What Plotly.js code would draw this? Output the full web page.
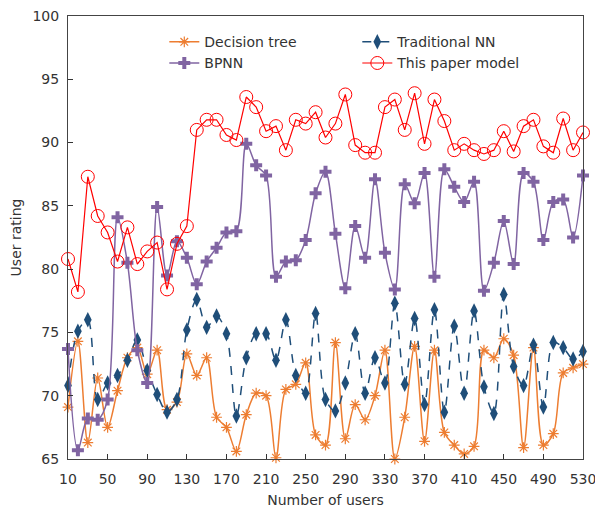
<!DOCTYPE html>
<html>
<head>
<meta charset="utf-8">
<script src="https://cdn.plot.ly/plotly-3.0.1.min.js"></script>
<style>html,body{margin:0;padding:0;background:#fff;}#chart{width:595px;height:509px;}</style>
</head>
<body>
<div id="chart"></div>
<script>
const users = [];
for (let u = 10; u <= 530; u += 10) users.push(u);

const decisionTree = [69.1, 74.3, 66.3, 71.4, 67.5, 70.4, 73.0, 73.8, 71.7, 73.6, 68.9, 69.5, 73.3, 71.6, 73.0, 68.3, 67.5, 65.6, 68.5, 70.2, 70.0, 65.1, 70.5, 70.9, 72.6, 66.9, 66.1, 74.2, 66.6, 69.3, 68.1, 70.0, 73.6, 65.0, 68.3, 73.9, 66.4, 73.6, 67.1, 66.1, 65.4, 66.0, 73.6, 73.0, 74.5, 73.2, 65.9, 73.8, 66.1, 67.0, 71.8, 72.2, 72.5];
const traditionalNN = [70.8, 75.1, 76.0, 69.7, 71.0, 71.6, 72.8, 74.4, 72.0, 70.1, 68.7, 69.7, 75.2, 77.6, 75.4, 76.3, 74.9, 68.4, 73.0, 74.9, 74.9, 72.8, 76.0, 71.6, 70.2, 76.5, 69.7, 68.8, 71.0, 74.9, 70.2, 73.0, 71.0, 77.3, 70.9, 76.1, 69.3, 76.8, 68.7, 75.5, 70.2, 76.7, 70.7, 68.6, 78.0, 72.3, 70.8, 74.0, 69.1, 74.2, 73.8, 72.9, 73.5];
const bpnn = [73.7, 65.7, 68.2, 68.1, 69.7, 84.1, 80.5, 73.6, 71.0, 84.9, 79.5, 82.2, 80.9, 78.8, 80.6, 81.7, 82.9, 83.0, 89.9, 88.2, 87.4, 79.4, 80.6, 80.7, 82.3, 86.0, 87.7, 82.8, 78.5, 83.4, 80.9, 87.1, 81.3, 78.4, 86.7, 85.2, 87.6, 79.4, 87.9, 86.5, 85.3, 86.9, 78.3, 80.5, 83.8, 80.4, 87.6, 86.9, 82.3, 85.3, 85.5, 82.5, 87.4];
const thisPaper = [80.8, 78.2, 87.3, 84.2, 82.9, 80.6, 83.3, 80.4, 81.4, 82.1, 78.4, 82.0, 83.4, 91.0, 91.8, 91.8, 90.6, 90.2, 93.6, 92.8, 90.9, 91.3, 89.4, 91.8, 91.5, 92.4, 90.4, 91.5, 93.8, 89.8, 89.2, 89.2, 92.8, 93.4, 91.0, 93.9, 89.9, 93.4, 91.7, 89.4, 89.9, 89.4, 89.1, 89.4, 90.9, 89.3, 91.3, 91.8, 89.7, 89.2, 91.9, 89.4, 90.8];

const xTicks = [10, 50, 90, 130, 170, 210, 250, 290, 330, 370, 410, 450, 490, 530];
const yTicks = [65, 70, 75, 80, 85, 90, 95, 100];

const FONT = 'DejaVu Sans, Verdana, sans-serif';

const traces = [
  {
    x: users, y: decisionTree, name: 'Decision tree', type: 'scatter', mode: 'lines+markers',
    line: {color: '#ED7D31', width: 1.5, shape: 'spline', smoothing: 0.9},
    marker: {symbol: 'asterisk-open', size: 9, color: '#ED7D31', line: {color: '#ED7D31', width: 1.2}},
    cliponaxis: false
  },
  {
    x: users, y: traditionalNN, name: 'Traditional NN', type: 'scatter', mode: 'lines+markers',
    line: {color: '#1F4E79', width: 1.5, dash: 'dash', shape: 'spline', smoothing: 0.9},
    marker: {symbol: 'diamond-tall', size: 11, color: '#1F4E79'},
    cliponaxis: false
  },
  {
    x: users, y: bpnn, name: 'BPNN', type: 'scatter', mode: 'lines+markers',
    line: {color: '#8064A2', width: 1.5, shape: 'spline', smoothing: 0.9},
    marker: {symbol: 'cross', size: 10, color: '#8064A2'},
    cliponaxis: false
  },
  {
    x: users, y: thisPaper, name: 'This paper model', type: 'scatter', mode: 'lines+markers',
    line: {color: '#FF0000', width: 1.2},
    marker: {symbol: 'circle-open', size: 13, color: '#FF0000', line: {color: '#FF0000', width: 1}},
    cliponaxis: false
  }
];

const layout = {
  width: 595, height: 509,
  margin: {l: 68, r: 12, t: 16, b: 50},
  paper_bgcolor: '#ffffff', plot_bgcolor: '#ffffff',
  font: {family: FONT, size: 14, color: '#333333'},
  showlegend: true,
  legend: {
    orientation: 'h', x: 0.187, xanchor: 'left', y: 0.977, yanchor: 'top',
    entrywidth: 148, entrywidthmode: 'pixels',
    font: {family: FONT, size: 14, color: '#333333'},
    bgcolor: 'rgba(255,255,255,0)', tracegroupgap: 0
  },
  xaxis: {
    range: [10, 530], tickmode: 'array', tickvals: xTicks, ticktext: xTicks.map(String),
    showgrid: false, zeroline: false, showline: true, linecolor: '#444444', linewidth: 1, mirror: true,
    ticks: 'inside', ticklen: 5, tickcolor: '#333333', ticklabeloverflow: 'allow',
    ticklabelstandoff: 7,
    tickfont: {family: FONT, size: 14, color: '#333333'},
    title: {text: 'Number of users', font: {family: FONT, size: 14, color: '#333333'}, standoff: 9}
  },
  yaxis: {
    range: [65, 100], tickmode: 'array', tickvals: yTicks, ticktext: yTicks.map(String),
    showgrid: false, zeroline: false, showline: true, linecolor: '#444444', linewidth: 1, mirror: true,
    ticks: 'inside', ticklen: 5, tickcolor: '#333333', ticklabeloverflow: 'allow',
    ticklabelstandoff: 5,
    tickfont: {family: FONT, size: 14, color: '#333333'},
    title: {text: 'User rating', font: {family: FONT, size: 14, color: '#333333'}, standoff: 7}
  }
};

Plotly.newPlot('chart', traces, layout, {displayModeBar: false, staticPlot: true});
</script>
</body>
</html>
